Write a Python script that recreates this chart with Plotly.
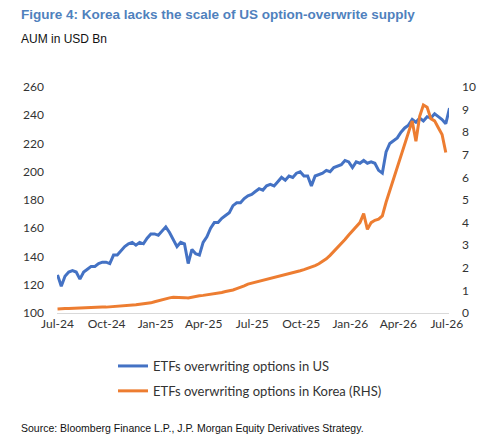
import datetime as dt
import plotly.graph_objects as go

start = dt.date(2024, 7, 1)

us_aum = [127, 119, 126, 129, 130, 129, 124, 129, 131, 133,
          133, 135, 136, 136, 135, 141, 141, 144, 147, 149,
          150, 148, 150, 149, 153, 156, 156, 155, 158, 161,
          157, 152, 147, 150, 149, 135, 145, 142, 141, 150,
          154, 160, 164, 164, 167, 169, 171, 176, 178, 178,
          181, 183, 184, 186, 188, 187, 190, 191, 190, 193,
          196, 194, 197, 196, 199, 200, 197, 197, 190, 197,
          198, 199, 201, 200, 203, 204, 205, 208, 207, 203,
          207, 206, 208, 206, 207, 206, 201, 199, 214, 220,
          222, 224, 228, 231, 233, 237, 235, 238, 236, 239,
          238, 241, 239, 237, 234, 245]

kr_aum = [0.18, 0.20, 0.20, 0.20, 0.21, 0.21, 0.22, 0.22, 0.23, 0.24,
          0.25, 0.25, 0.26, 0.26, 0.27, 0.28, 0.29, 0.30, 0.32, 0.34,
          0.36, 0.37, 0.39, 0.40, 0.42, 0.45, 0.50, 0.55, 0.60, 0.64,
          0.67, 0.70, 0.70, 0.71, 0.68, 0.66, 0.70, 0.73, 0.76, 0.78,
          0.80, 0.83, 0.86, 0.88, 0.91, 0.95, 0.98, 1.02, 1.08, 1.13,
          1.20, 1.28, 1.32, 1.36, 1.40, 1.45, 1.50, 1.53, 1.58, 1.63,
          1.67, 1.70, 1.74, 1.78, 1.83, 1.87, 1.92, 1.97, 2.04, 2.10,
          2.18, 2.28, 2.40, 2.55, 2.72, 2.88, 3.05, 3.25, 3.45, 3.65,
          3.85, 4.00, 4.40, 3.70, 4.00, 4.10, 4.15, 4.30, 4.90, 5.40,
          5.90, 6.45, 6.90, 7.40, 7.90, 8.50, 7.60, 8.70, 9.20, 9.10,
          8.60, 8.50, 8.20, 7.90, 7.10]

us_dates = [start + dt.timedelta(days=7 * i) for i in range(len(us_aum))]
kr_dates = [start + dt.timedelta(days=7 * i) for i in range(len(kr_aum))]

tick_dates = ["2024-07-01", "2024-10-01", "2025-01-01", "2025-04-01", "2025-07-01",
              "2025-10-01", "2026-01-01", "2026-04-01", "2026-07-01"]
tick_labels = ["Jul-24", "Oct-24", "Jan-25", "Apr-25", "Jul-25",
               "Oct-25", "Jan-26", "Apr-26", "Jul-26"]
left_ticks = [100, 120, 140, 160, 180, 200, 220, 240, 260]
right_ticks = list(range(0, 11))

title = "Figure 4: Korea lacks the scale of US option-overwrite supply"
subtitle = "AUM in USD Bn"
source = "Source: Bloomberg Finance L.P., J.P. Morgan Equity Derivatives Strategy."
us_name = "ETFs overwriting options in US"
kr_name = "ETFs overwriting options in Korea (RHS)"

TICK_FONT = dict(family="Lato, Carlito, Open Sans, sans-serif", size=12, color="#333333")
NARROW = "Liberation Sans Narrow, Arial Narrow, Liberation Sans, Arial, sans-serif"

# page body has an 8px default margin, so the figure is 8px smaller than the window
W, H = 478, 439
L, T, PW, PH = 49, 79, 392, 226
R, B = W - L - PW, H - T - PH


def px_x(x):
    return (x - L) / PW


def px_y(y):
    return 1 - (y - T) / PH


fig = go.Figure()
fig.add_trace(go.Scatter(x=us_dates, y=us_aum, name=us_name, mode="lines", legendgroup="us",
                         line=dict(color="#4472C4", width=3), yaxis="y"))
fig.add_trace(go.Scatter(x=kr_dates, y=kr_aum, name=kr_name, mode="lines", legendgroup="kr",
                         line=dict(color="#ED7D31", width=3), yaxis="y2"))

fig.update_layout(
    template="none",
    width=W, height=H,
    margin=dict(l=L, r=R, t=T, b=B, pad=0, autoexpand=False),
    paper_bgcolor="white", plot_bgcolor="white",
    showlegend=True,
    legend=dict(x=px_x(105), y=px_y(343), xanchor="left", yanchor="top",
                orientation="v", font=dict(family="Lato, Carlito, sans-serif", size=13, color="#333333"),
                tracegroupgap=5, itemwidth=30, bgcolor="rgba(0,0,0,0)"),
    xaxis=dict(type="date", range=["2024-06-30", "2026-07-05"], automargin=False,
               tickvals=tick_dates, ticktext=tick_labels, tickfont=TICK_FONT,
               showgrid=False, showline=True, linecolor="#d9d9d9", linewidth=1,
               ticks="", zeroline=False),
    yaxis=dict(range=[100, 260], tickvals=left_ticks, tickfont=TICK_FONT, automargin=False,
               showgrid=False, showline=False, zeroline=False, ticks="",
               ticklabelstandoff=12),
    yaxis2=dict(range=[0, 10], tickvals=right_ticks, tickfont=TICK_FONT, automargin=False,
                overlaying="y", side="right",
                showgrid=False, showline=False, zeroline=False, ticks="",
                ticklabelstandoff=12),
    annotations=[
        dict(text="<b>" + title + "</b>", xref="paper", yref="paper",
             x=px_x(11), y=px_y(7), xanchor="left", yanchor="middle",
             showarrow=False, font=dict(family=NARROW, size=13.5, color="#4F81BD")),
        dict(text=subtitle, xref="paper", yref="paper",
             x=px_x(11), y=px_y(31), xanchor="left", yanchor="middle",
             showarrow=False, font=dict(family=NARROW, size=12, color="#111111")),
        dict(text=source, xref="paper", yref="paper",
             x=px_x(11), y=px_y(420), xanchor="left", yanchor="middle",
             showarrow=False, font=dict(family=NARROW, size=10.5, color="#111111")),
    ],
)

fig.write_html("out.html")
